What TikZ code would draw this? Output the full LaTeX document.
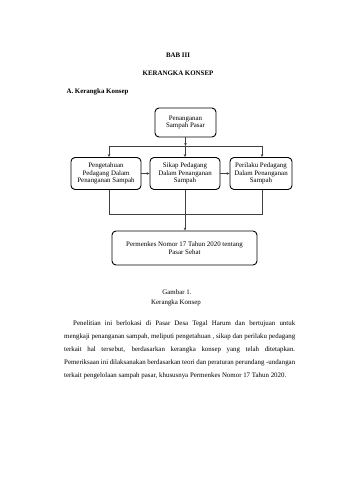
\documentclass[tikz,border=0pt]{standalone}
\usepackage{fontspec}
\setmainfont{Liberation Serif}
\usetikzlibrary{arrows.meta,positioning}

\begin{document}
\begin{tikzpicture}[x=1pt,y=-1pt,
kotak/.style={draw,line width=0.9pt,rounded corners=4pt,align=center,inner sep=1pt,font=\fontsize{6.9}{7.8}\selectfont},
garis/.style={draw=black!75,line width=0.5pt},
panah/.style={garis,-{Stealth[length=3pt,width=2.6pt]}},
judul/.style={font=\fontsize{6.9}{8}\selectfont\bfseries},
biasa/.style={font=\fontsize{6.9}{8}\selectfont}]
\fill[white](0,0) rectangle (340,480);
\useasboundingbox (0,0) rectangle (340,480);
\node[judul] (bab) at (178,55) {BAB III};
\node[judul] (kk) at (178,73) {KERANGKA KONSEP};
\node[judul,anchor=west] (sub) at (63,92) {A. Kerangka Konsep};
\node[kotak,minimum width=61pt,minimum height=29pt] (pasar) at (185.5,122.5) {Penanganan\\Sampah Pasar};
\node[kotak,minimum width=70pt,minimum height=32pt] (tahu) at (106,173.5) {Pengetahuan\\Pedagang Dalam\\Penanganan Sampah};
\node[kotak,minimum width=70pt,minimum height=32pt] (sikap) at (185,173.5) {Sikap Pedagang\\Dalam Penanganan\\Sampah};
\node[kotak,minimum width=62pt,minimum height=32pt] (laku) at (261,173.5) {Perilaku Pedagang\\Dalam Penanganan\\Sampah};
\node[kotak,minimum width=145pt,minimum height=34pt] (perm) at (184.5,248) {Permenkes Nomor 17 Tahun 2020 tentang\\Pasar Sehat};
% cabang atas
\coordinate (cab) at (185,146);
\coordinate (kiri) at (109,146);
\coordinate (kanan) at (262,146);
\draw[panah](pasar.south)--(pasar.south|-cab);
\draw[garis](kiri)--(kanan);
\draw[panah](kiri)--(kiri|-tahu.north);
\draw[panah](cab)--(cab|-sikap.north);
\draw[panah](kanan)--(kanan|-laku.north);
\draw[panah](tahu)--(sikap);
\draw[panah](sikap)--(laku);
% gabung bawah
\coordinate (gab) at (185,214);
\draw[garis](kiri|-tahu.south)--(kiri|-gab)--(kanan|-gab)--(kanan|-laku.south);
\draw[garis](sikap.south)--(gab);
\draw[panah](gab)--(gab|-perm.north);
\node[biasa] (gbr) at (177,292) {Gambar 1.};
\node[biasa] (cap) at (176,303) {Kerangka Konsep};
\node[anchor=north west,text width=231pt,align=justify,inner sep=0pt,font=\fontsize{6.9}{13}\selectfont] (teks) at (64,320.5)
{\hspace*{9pt}Penelitian ini berlokasi di Pasar Desa Tegal Harum dan bertujuan untuk\linebreak
mengkaji penanganan sampah, meliputi pengetahuan , sikap dan perilaku pedagang\linebreak
terkait hal tersebut, berdasarkan kerangka konsep yang telah ditetapkan.\linebreak
Pemeriksaan ini dilaksanakan berdasarkan teori dan peraturan perundang -undangan\linebreak
terkait pengelolaan sampah pasar, khususnya Permenkes Nomor 17 Tahun 2020.};
\end{tikzpicture}
\end{document}
